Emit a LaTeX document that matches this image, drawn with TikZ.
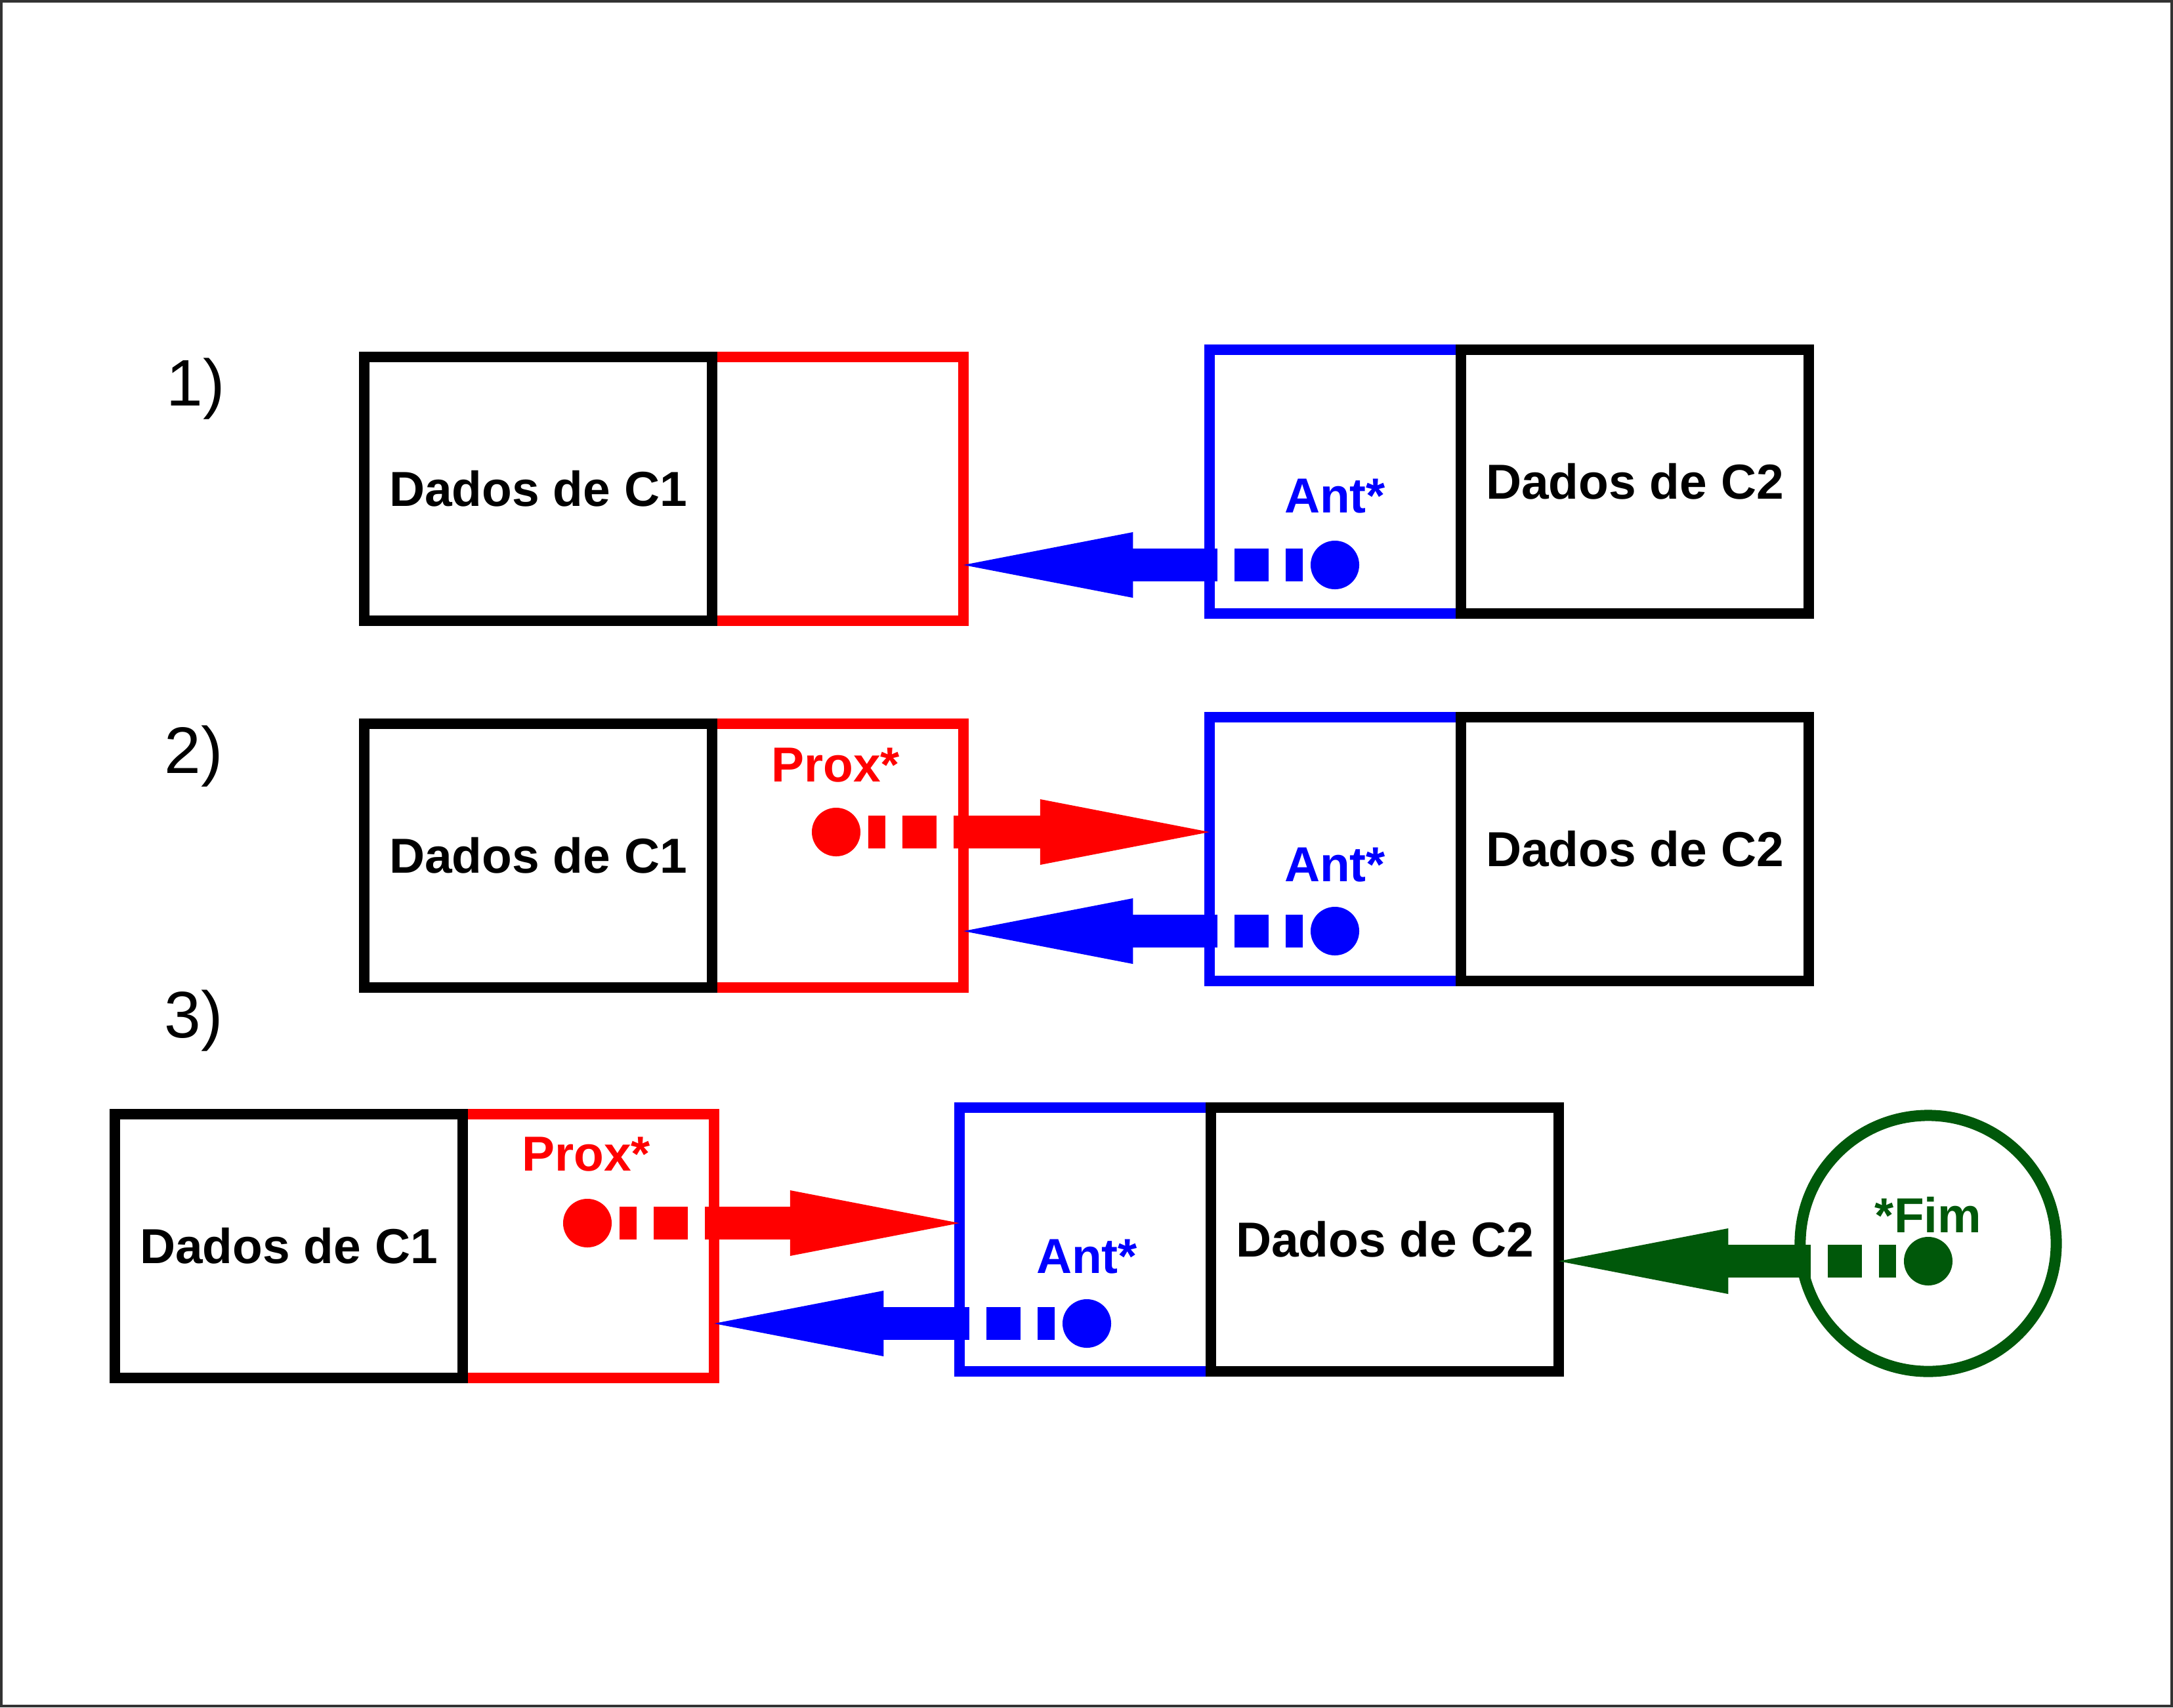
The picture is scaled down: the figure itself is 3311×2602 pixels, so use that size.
\documentclass[tikz,border=0pt]{standalone}
\usepackage{fontspec}
\setmainfont{Liberation Sans}
\usetikzlibrary{arrows.meta}
\definecolor{pred}{RGB}{255,0,0}
\definecolor{pblue}{RGB}{0,0,255}
\definecolor{pgreen}{RGB}{0,88,10}
\newcommand\boxfont{\fontsize{21.3}{25}\selectfont\bfseries}
\newcommand\stepfont{\fontsize{28.5}{32}\selectfont}
\tikzset{
  pbox/.style={draw, line width=0.16cm, inner sep=0pt, outer sep=0pt, minimum height=4.02cm, font=\boxfont},
  databox/.style={pbox, black, minimum width=5.30cm},
  ptrbox/.style={pbox, minimum width=3.83cm},
  dot/.style={circle, fill, inner sep=0pt, outer sep=0pt, minimum size=0.74cm},
  ptrlabel/.style={font=\boxfont, inner sep=0pt},
  steplabel/.style={font=\stepfont, inner sep=0pt},
  ptr/.style={line width=0.5cm,
    dash pattern=on 0pt off 0.12cm on 0.26cm off 0.26cm on 0.52cm off 0.26cm on 10cm,
    -{Triangle[length=2.58cm,width=1.0cm,line width=0pt]}},
}
\begin{document}
\begin{tikzpicture}[x=0.01cm,y=-0.01cm]
\useasboundingbox (0,0) rectangle (3311,2602);
\draw[line width=0.04cm, black!80] (2,2) rectangle (3309,2600);

% step labels
\node[steplabel] (s1) at (298,593) {1)};
\node[steplabel] (s2) at (295,1153) {2)};
\node[steplabel] (s3) at (295,1556) {3)};

% row 1
\node[ptrbox, pred] (r1) at (1276.5,745) {};
\node[databox] (c1a) at (820,745) {Dados de C1};
\node[ptrbox, pblue] (b1) at (2034.5,734) {};
\node[databox] (c2a) at (2491,734) {Dados de C2};
\node[ptrlabel, pblue] (al1) at (2034,756) {Ant*};
\node[dot, pblue] (db1) at (2034,861) {};
\draw[ptr, pblue] (db1) -- (r1.east |- db1);

% row 2
\node[ptrbox, pred] (r2) at (1276.5,1304) {};
\node[databox] (c1b) at (820,1304) {Dados de C1};
\node[ptrbox, pblue] (b2) at (2034.5,1294) {};
\node[databox] (c2b) at (2491,1294) {Dados de C2};
\node[ptrlabel, pred] (pl2) at (1273,1166) {Prox*};
\node[dot, pred] (dr2) at (1274,1268) {};
\node[ptrlabel, pblue] (al2) at (2034,1318) {Ant*};
\node[dot, pblue] (db2) at (2034,1419) {};
\draw[ptr, pred] (dr2) -- (b2.west |- dr2);
\draw[ptr, pblue] (db2) -- (r2.east |- db2);

% row 3
\node[ptrbox, pred] (r3) at (896.5,1899) {};
\node[databox] (c1c) at (440,1899) {Dados de C1};
\node[ptrbox, pblue] (b3) at (1653.5,1889) {};
\node[databox] (c2c) at (2110,1889) {Dados de C2};
\node[ptrlabel, pred] (pl3) at (893,1759) {Prox*};
\node[dot, pred] (dr3) at (895,1864) {};
\node[ptrlabel, pblue] (al3) at (1656,1915) {Ant*};
\node[dot, pblue] (db3) at (1656,2017) {};
\draw[ptr, pred] (dr3) -- (b3.west |- dr3);
\draw[ptr, pblue] (db3) -- (r3.east |- db3);

% end pointer
\node[circle, draw=pgreen, line width=0.17cm, minimum size=3.9cm, inner sep=0pt] (fim) at (2938,1895) {};
\node[ptrlabel, pgreen] (fl) at (2938,1851) {*Fim};
\node[dot, pgreen] (dg) at (2938,1922) {};
\draw[ptr, pgreen] (dg) -- (c2c.east |- dg);
\end{tikzpicture}
\end{document}
